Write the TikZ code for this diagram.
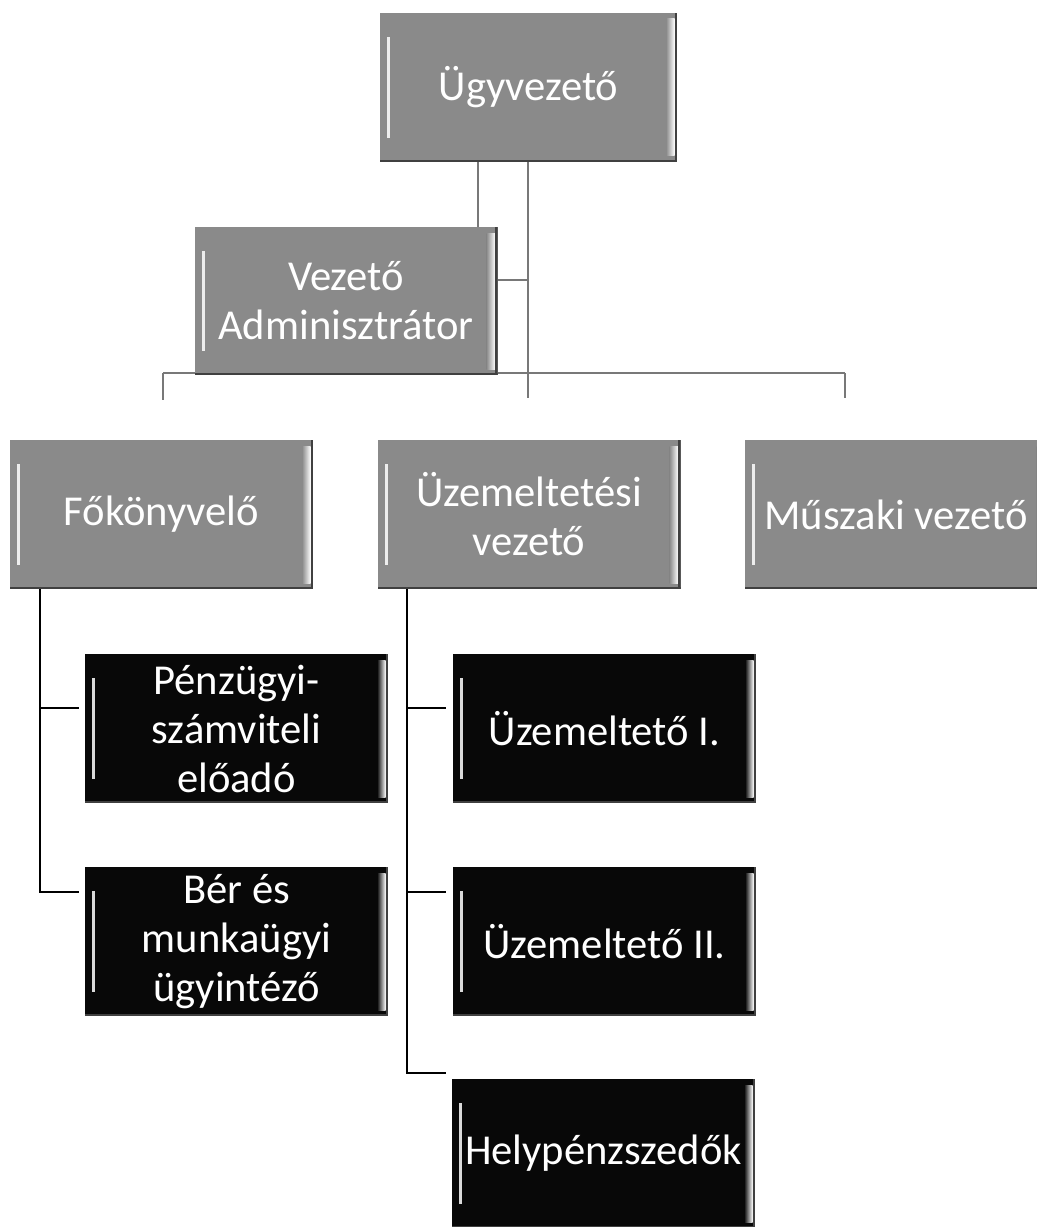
\documentclass[tikz,border=0pt]{standalone}
\usepackage{fontspec}
\setmainfont{Carlito}
\usetikzlibrary{backgrounds,calc}
\definecolor{boxgray}{RGB}{138,138,138}
\definecolor{boxblack}{RGB}{8,8,8}
\definecolor{linegray}{RGB}{120,120,120}
\tikzset{
  orgbox/.style={rectangle, fill=#1, minimum width=151.5pt, minimum height=74.5pt,
    inner sep=0pt, text=white, align=center,
    font=\fontsize{21.3}{24.5}\selectfont,
    path picture={
      \fill[white,opacity=.85] ([shift={(3.5pt,-12pt)}]path picture bounding box.north west)
        rectangle ([shift={(5pt,12pt)}]path picture bounding box.south west);
      \shade[left color=#1, right color=white] ([shift={(-5.5pt,-3pt)}]path picture bounding box.north east)
        rectangle ([shift={(-1.2pt,3pt)}]path picture bounding box.south east);
      \fill[black!75] (path picture bounding box.south west)
        rectangle ([yshift=1pt]path picture bounding box.south east);
      \fill[black!75] ([xshift=-1.2pt]path picture bounding box.north east)
        rectangle (path picture bounding box.south east);
    }},
  graybox/.style={orgbox=boxgray},
  blackbox/.style={orgbox=boxblack},
  topline/.style={draw=linegray, line width=0.7pt},
  lowline/.style={draw=black, line width=1.1pt}
}
\begin{document}
\begin{tikzpicture}[x=0.5pt,y=-0.5pt]
\useasboundingbox (0,0) rectangle (1037,1227);

% nodes
\node[graybox, minimum width=148.5pt] (U) at (528.5,87) {Ügyvezető};
\node[graybox, minimum height=74pt] (VA) at (346,301) {Vezető\\Adminisztrátor};
\node[graybox] (F) at (161.5,514.5) {Főkönyvelő};
\node[graybox] (UV) at (529,514.5) {Üzemeltetési\\vezető};
\node[graybox] (M) at (896,514.5) {Műszaki vezető};
\node[blackbox] (P) at (236.5,728.5) {Pénzügyi-\\számviteli\\előadó};
\node[blackbox] (B) at (236.5,941.5) {Bér és\\munkaügyi\\ügyintéző};
\node[blackbox] (U1) at (604.5,728.5) {Üzemeltető I.};
\node[blackbox] (U2) at (604.5,941.5) {Üzemeltető II.};
\node[blackbox] (H) at (603.5,1153.5) {Helypénzszedők};

% junction coordinates
\coordinate (ax) at (478,0);
\coordinate (trunk) at (528,398);
\coordinate (asst) at (528,280);
\coordinate (busL) at (163,373);
\coordinate (busR) at (845,373);
\coordinate (dL) at (163,400);
\coordinate (dR) at (845,398);
\coordinate (fx) at (40,0);
\coordinate (bP) at (79,708);
\coordinate (bB) at (79,892);
\coordinate (ux) at (407,0);
\coordinate (b1) at (446,708);
\coordinate (b2) at (446,892);
\coordinate (bH) at (446,1073);

\begin{scope}[on background layer]
  \fill[white] (0,0) rectangle (1037,1227);
  \draw[topline] (U.south -| ax) -- (VA.north -| ax);
  \draw[topline] (U.south -| trunk) -- (trunk);
  \draw[topline] (asst) -- (VA.east |- asst);
  \draw[topline] (busL) -- (busR);
  \draw[topline] (busL) -- (dL);
  \draw[topline] (busR) -- (dR);
  \draw[lowline] (F.south -| fx) |- (bB);
  \draw[lowline] (bP -| fx) -- (bP);
  \draw[lowline] (UV.south -| ux) |- (bH);
  \draw[lowline] (b1 -| ux) -- (b1);
  \draw[lowline] (b2 -| ux) -- (b2);
\end{scope}
\end{tikzpicture}
\end{document}
